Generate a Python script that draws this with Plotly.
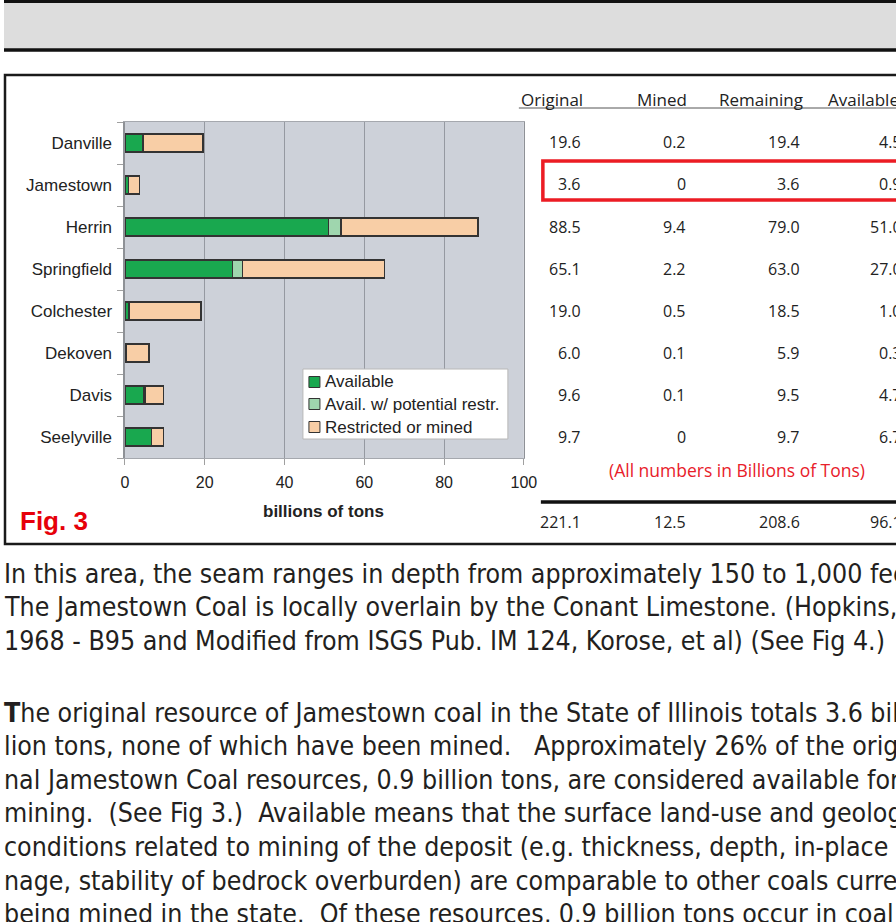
import plotly.graph_objects as go

# ---------------- data ----------------
seams = ["Danville", "Jamestown", "Herrin", "Springfield", "Colchester", "Dekoven", "Davis", "Seelyville"]
available = [4.5, 0.9, 51.0, 27.0, 1.0, 0.3, 4.7, 6.7]
avail_restr = [0.2, 0.0, 3.1, 2.5, 0.0, 0.0, 0.3, 0.0]
restricted = [14.9, 2.7, 34.4, 35.6, 18.0, 5.7, 4.6, 3.0]
series_names = ["Available", "Avail. w/ potential restr.", "Restricted or mined"]

tbl_headers = ["Original", "Mined", "Remaining", "Available"]
tbl_original = ["19.6", "3.6", "88.5", "65.1", "19.0", "6.0", "9.6", "9.7"]
tbl_mined = ["0.2", "0", "9.4", "2.2", "0.5", "0.1", "0.1", "0"]
tbl_remaining = ["19.4", "3.6", "79.0", "63.0", "18.5", "5.9", "9.5", "9.7"]
tbl_available = ["4.5", "0.9", "51.0", "27.0", "1.0", "0.3", "4.7", "6.7"]
tbl_totals = ["221.1", "12.5", "208.6", "96.1"]

x_ticks = [0, 20, 40, 60, 80, 100]

para1 = [
    "In this area, the seam ranges in depth from approximately 150 to 1,000 feet.",
    "The Jamestown Coal is locally overlain by the Conant Limestone. (Hopkins,",
    "1968 - B95 and Modified from ISGS Pub. IM 124, Korose, et al) (See Fig 4.)",
]
para2 = [
    "<b>T</b>he original resource of Jamestown coal in the State of Illinois totals 3.6 bil-",
    "lion tons, none of which have been mined.   Approximately 26% of the origi-",
    "nal Jamestown Coal resources, 0.9 billion tons, are considered available for",
    "mining.  (See Fig 3.)  Available means that the surface land-use and geologic",
    "conditions related to mining of the deposit (e.g. thickness, depth, in-place ton-",
    "nage, stability of bedrock overburden) are comparable to other coals currently",
    "being mined in the state.  Of these resources, 0.9 billion tons occur in coal 4",
]

# ---------------- layout helpers (page coordinates) ----------------
FIG_W, H = 912, 922
SX, OX = 0.9816, 4.0   # horizontal mapping of the photographed page


def px(x):
    return ((x - OX) / SX) / FIG_W


def py(y):
    return 1 - y / H


def pth(points):
    return "M " + " L ".join(f"{px(a):.5f},{py(b):.5f}" for a, b in points)


GREEN = "#19a84f"
LGREEN = "#9fd6ae"
PEACH = "#f8cea6"
EDGE = "#333333"
colors = [GREEN, LGREEN, PEACH]

fig = go.Figure()
for name, vals, col in zip(series_names, [available, avail_restr, restricted], colors):
    fig.add_trace(go.Bar(
        y=seams, x=vals, orientation="h", name=name,
        marker=dict(color=col, line=dict(color=EDGE, width=1.5)),
        width=0.42, hoverinfo="skip", showlegend=False,
    ))

plot_l, plot_r, plot_t, plot_b = 125, 524, 122, 458
RIGHT = 905  # beyond the visible edge

fig.update_layout(
    width=FIG_W, height=H, autosize=False,
    margin=dict(l=0, r=0, t=0, b=0),
    paper_bgcolor="white",
    plot_bgcolor="#cdd1d9",
    barmode="stack",
    font=dict(family="Liberation Sans, Arial, sans-serif", size=16, color="#222"),
    xaxis=dict(
        domain=[px(plot_l), px(plot_r)],
        range=[0, 100], tickvals=x_ticks,
        showgrid=True, gridcolor="#9599a1", gridwidth=1,
        zeroline=False,
        showline=True, linecolor="#a5a8ae", linewidth=1, mirror=True,
        ticks="outside", ticklen=6, tickcolor="#a0a0a0",
        tickfont=dict(size=16, color="#222"),
        ticklabelstandoff=4,
        fixedrange=True,
    ),
    yaxis=dict(
        domain=[py(plot_b), py(plot_t)],
        categoryorder="array", categoryarray=seams[::-1],
        showgrid=False, zeroline=False,
        showline=True, linecolor="#8e9196", linewidth=1.5, mirror=True,
        ticks="outside", ticklen=6, tickcolor="#a0a0a0", tickson="boundaries",
        tickfont=dict(size=17, color="#222"),
        ticklabelstandoff=8,
        fixedrange=True,
    ),
    showlegend=False,
)

shapes = []
shapes.append(dict(type="rect", xref="paper", yref="paper", x0=0, x1=1,
                   y0=py(50), y1=py(2), fillcolor="#dddddd", line=dict(width=0), layer="below"))
shapes.append(dict(type="line", xref="paper", yref="paper", x0=0, x1=1,
                   y0=py(1.5), y1=py(1.5), line=dict(color="#111", width=3)))
shapes.append(dict(type="line", xref="paper", yref="paper", x0=0, x1=1,
                   y0=py(50), y1=py(50), line=dict(color="#111", width=3.5)))
shapes.append(dict(type="path", xref="paper", yref="paper",
                   path=pth([(RIGHT, 75), (5, 75), (5, 544), (RIGHT, 544)]),
                   line=dict(color="#1a1a1a", width=2.5)))
shapes.append(dict(type="line", xref="paper", yref="paper", x0=px(519), x1=px(RIGHT),
                   y0=py(108), y1=py(108), line=dict(color="#555", width=1)))
shapes.append(dict(type="path", xref="paper", yref="paper",
                   path=pth([(RIGHT, 161), (543, 161), (543, 200), (RIGHT, 200)]),
                   line=dict(color="#ec1c24", width=3.5)))
shapes.append(dict(type="line", xref="paper", yref="paper", x0=px(541), x1=px(RIGHT),
                   y0=py(502), y1=py(502), line=dict(color="#111", width=3.5)))
shapes.append(dict(type="rect", xref="paper", yref="paper", x0=px(303), x1=px(508),
                   y0=py(439), y1=py(369), fillcolor="white", line=dict(color="#b8b8b8", width=1)))
leg_y = [382, 404, 427]
for ly, col in zip(leg_y, colors):
    shapes.append(dict(type="rect", xref="paper", yref="paper", x0=px(309), x1=px(320),
                       y0=py(ly + 5.5), y1=py(ly - 5.5), fillcolor=col, line=dict(color=EDGE, width=1)))
fig.update_layout(shapes=shapes)

ann = []
TFONT = "Open Sans, sans-serif"
for ly, name in zip(leg_y, series_names):
    ann.append(dict(text=name, x=px(323), y=py(ly), xref="paper", yref="paper",
                    xanchor="left", yanchor="middle", showarrow=False,
                    font=dict(family="Liberation Sans, Arial, sans-serif", size=17, color="#222")))
hdr_cx = [552, 662, 761, 864]
for h, cx in zip(tbl_headers, hdr_cx):
    ann.append(dict(text=h, x=px(cx), y=py(100), xref="paper", yref="paper",
                    xanchor="center", yanchor="middle", showarrow=False,
                    font=dict(family=TFONT, size=17, color="#222")))
col_right = [583, 688, 802, 904]
row_y = [142, 184, 227, 269, 311, 353, 395, 437]
for ci, col in enumerate([tbl_original, tbl_mined, tbl_remaining, tbl_available]):
    for ri, v in enumerate(col):
        ann.append(dict(text=v, x=px(col_right[ci]), y=py(row_y[ri]), xref="paper", yref="paper",
                        xanchor="right", yanchor="middle", showarrow=False,
                        font=dict(family=TFONT, size=16, color="#222")))
    ann.append(dict(text=tbl_totals[ci], x=px(col_right[ci]), y=py(522), xref="paper", yref="paper",
                    xanchor="right", yanchor="middle", showarrow=False,
                    font=dict(family=TFONT, size=16, color="#222")))
ann.append(dict(text="(All numbers in Billions of Tons)", x=px(737), y=py(470), xref="paper", yref="paper",
                xanchor="center", yanchor="middle", showarrow=False,
                font=dict(family=TFONT, size=17.5, color="#e8202a")))
ann.append(dict(text="<b>billions of tons</b>", x=px(324), y=py(511), xref="paper", yref="paper",
                xanchor="center", yanchor="middle", showarrow=False,
                font=dict(family="Liberation Sans, Arial, sans-serif", size=17, color="#222")))
ann.append(dict(text="<b>Fig. 3</b>", x=px(18), y=py(521), xref="paper", yref="paper",
                xanchor="left", yanchor="middle", showarrow=False,
                font=dict(family="Liberation Sans, Arial, sans-serif", size=26, color="#e6000a")))
BFONT = "DejaVu Sans Condensed, sans-serif"
body_lines = [(573 + i * 33.5, t) for i, t in enumerate(para1)] + \
             [(712 + i * 33.6, t) for i, t in enumerate(para2)]
for yy, line in body_lines:
    ann.append(dict(text=line, x=px(2), y=py(yy), xref="paper", yref="paper",
                    xanchor="left", yanchor="middle", showarrow=False,
                    font=dict(family=BFONT, size=26.5, color="#231f20")))
fig.update_layout(annotations=ann)

post = ("document.documentElement.style.overflow='hidden';"
        "document.body.style.margin='0';document.body.style.padding='0';"
        "document.body.style.overflow='hidden';")
fig.write_html("out.html", config={"responsive": False, "displayModeBar": False,
                                   "staticPlot": True},
               post_script=post)
